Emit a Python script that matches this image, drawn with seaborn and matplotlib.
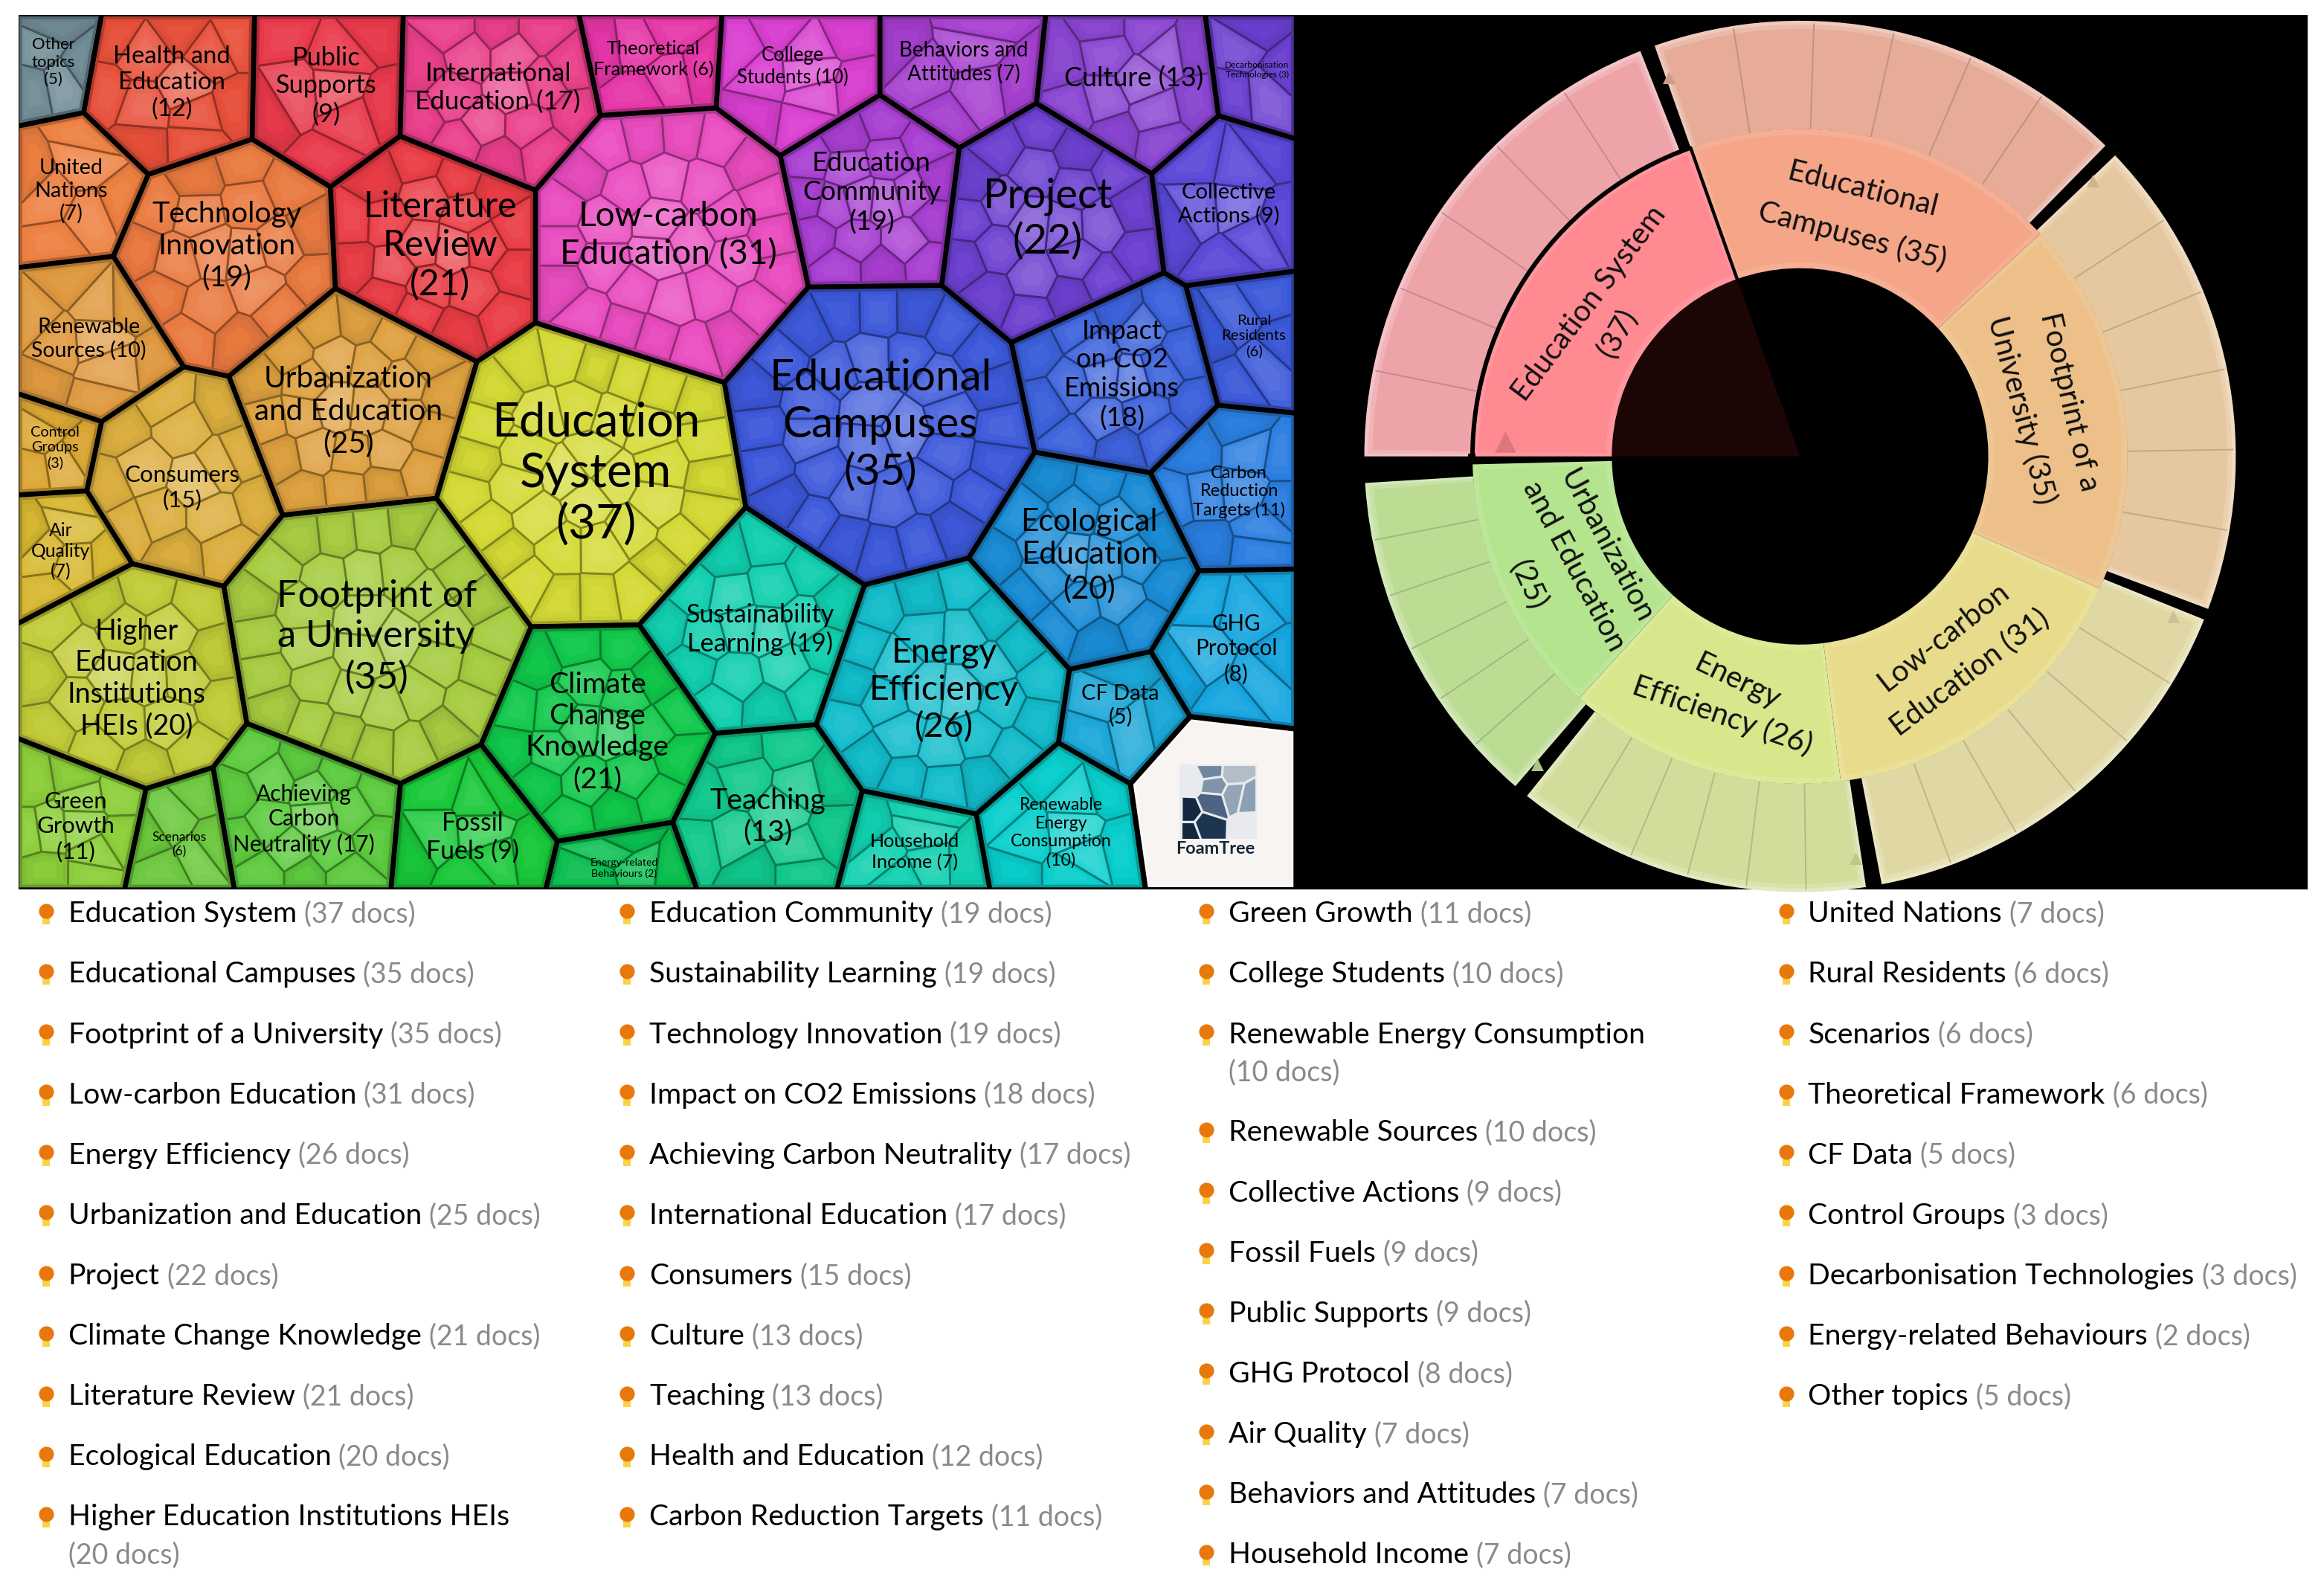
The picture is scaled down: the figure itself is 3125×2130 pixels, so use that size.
import math
import numpy as np
import matplotlib
matplotlib.use("Agg")
import matplotlib.pyplot as plt
import seaborn as sns
from matplotlib.collections import PolyCollection
from matplotlib.colors import to_rgb
from matplotlib.font_manager import FontProperties
from matplotlib.patches import Polygon, Rectangle, Wedge
from matplotlib.textpath import TextPath

# ---------------- data ----------------
col1_names = ["Education System", "Educational Campuses", "Footprint of a University", "Low-carbon Education",
              "Energy Efficiency", "Urbanization and Education", "Project", "Climate Change Knowledge",
              "Literature Review", "Ecological Education", "Higher Education Institutions HEIs"]
col1_docs = [37, 35, 35, 31, 26, 25, 22, 21, 21, 20, 20]
col2_names = ["Education Community", "Sustainability Learning", "Technology Innovation", "Impact on CO2 Emissions",
              "Achieving Carbon Neutrality", "International Education", "Consumers", "Culture", "Teaching",
              "Health and Education", "Carbon Reduction Targets"]
col2_docs = [19, 19, 19, 18, 17, 17, 15, 13, 13, 12, 11]
col3_names = ["Green Growth", "College Students", "Renewable Energy Consumption", "Renewable Sources",
              "Collective Actions", "Fossil Fuels", "Public Supports", "GHG Protocol", "Air Quality",
              "Behaviors and Attitudes", "Household Income"]
col3_docs = [11, 10, 10, 10, 9, 9, 9, 8, 7, 7, 7]
col4_names = ["United Nations", "Rural Residents", "Scenarios", "Theoretical Framework", "CF Data",
              "Control Groups", "Decarbonisation Technologies", "Energy-related Behaviours", "Other topics"]
col4_docs = [7, 6, 6, 6, 5, 3, 3, 2, 5]

ring_names = ["Education System", "Educational Campuses", "Footprint of a University",
              "Low-carbon Education", "Energy Efficiency", "Urbanization and Education"]
ring_docs = [37, 35, 35, 31, 26, 25]

# ---------------- layout (reference pixels of the 1568 x 1069 view) ----------------
# name: site x, site y, cell radius, colour, label lines, label x, label y, widest line width
foam = {
 "Education System": (400,323,100,"#d4da34","Education\nSystem\n(37)",402,320,128),
 "Educational Campuses": (592,290,98,"#3c58da","Educational\nCampuses\n(35)",594,287,137),
 "Footprint of a University": (255,430,95,"#a6cc40","Footprint of\na University\n(35)",254,430,125),
 "Low-carbon Education": (450,165,90,"#ea4cc0","Low-carbon\nEducation (31)",451,159,135),
 "Energy Efficiency": (637,465,80,"#12bccb","Energy\nEfficiency\n(26)",637,466,93),
 "Urbanization and Education": (238,275,75,"#dea03e","Urbanization\nand Education\n(25)",235,278,118),
 "Project": (707,150,72,"#6c40d0","Project\n(22)",707,148,80),
 "Climate Change Knowledge": (403,493,72,"#10c84a","Climate\nChange\nKnowledge\n(21)",403,494,89),
 "Literature Review": (295,165,68,"#ea3c44","Literature\nReview\n(21)",297,166,95),
 "Ecological Education": (733,378,68,"#1a8cd6","Ecological\nEducation\n(20)",735,375,84),
 "Higher Education Institutions HEIs": (88,458,70,"#c2cc38","Higher\nEducation\nInstitutions\nHEIs (20)",92,458,86),
 "Education Community": (590,135,60,"#a83ed2","Education\nCommunity\n(19)",588,130,87),
 "Sustainability Learning": (507,420,71,"#10cfae","Sustainability\nLearning (19)",513,425,94),
 "Technology Innovation": (153,172,70,"#ea7a40","Technology\nInnovation\n(19)",153,166,95),
 "Impact on CO2 Emissions": (755,255,62,"#3c62dc","Impact\non CO2\nEmissions\n(18)",757,253,71),
 "Achieving Carbon Neutrality": (208,550,58,"#5ccb3e","Achieving\nCarbon\nNeutrality (17)",205,553,88),
 "International Education": (335,65,60,"#ea3f8a","International\nEducation (17)",336,59,103),
 "Consumers": (122,320,60,"#dcae3e","Consumers\n(15)",123,329,72),
 "Culture": (762,60,52,"#8a45d2","Culture (13)",765,53,87),
 "Teaching": (518,548,54,"#10c88c","Teaching\n(13)",518,551,73),
 "Health and Education": (115,60,52,"#e8503a","Health and\nEducation\n(12)",116,56,72),
 "Carbon Reduction Targets": (830,330,48,"#2a7ee0","Carbon\nReduction\nTargets (11)",836,332,58),
 "Green Growth": (52,550,42,"#8ccf3a","Green\nGrowth\n(11)",51,558,48),
 "College Students": (537,48,45,"#d93fd0","College\nStudents (10)",535,45,70),
 "Renewable Energy Consumption": (715,555,45,"#08cfcc","Renewable\nEnergy\nConsumption\n(10)",716,562,63),
 "Renewable Sources": (62,230,50,"#e09a40","Renewable\nSources (10)",60,229,72),
 "Collective Actions": (827,135,45,"#5a48d8","Collective\nActions (9)",829,138,64),
 "Fossil Fuels": (318,560,48,"#18c838","Fossil\nFuels (9)",319,565,57),
 "Public Supports": (220,62,45,"#e8384a","Public\nSupports\n(9)",220,58,63),
 "GHG Protocol": (832,437,45,"#16a6e0","GHG\nProtocol\n(8)",834,438,50),
 "Air Quality": (42,370,35,"#d8b832","Air\nQuality\n(7)",41,372,37),
 "Behaviors and Attitudes": (648,48,42,"#a63fcf","Behaviors and\nAttitudes (7)",650,42,80),
 "Household Income": (615,573,36,"#10d0b0","Household\nIncome (7)",617,575,55),
 "United Nations": (50,128,42,"#ee8040","United\nNations\n(7)",48,129,45),
 "Rural Residents": (840,232,33,"#3a58d8","Rural\nResidents\n(6)",846,227,40),
 "Scenarios": (122,565,30,"#6cc83e","Scenarios\n(6)",121,570,34),
 "Theoretical Framework": (442,42,34,"#e636a8","Theoretical\nFramework (6)",441,40,75),
 "CF Data": (756,483,35,"#1aa8d8","CF Data\n(5)",756,476,48),
 "Other topics": (33,45,23,"#6f8a94","Other\ntopics\n(5)",36,42,27),
 "Control Groups": (38,302,27,"#dca835","Control\nGroups\n(3)",37,302,30),
 "Decarbonisation Technologies": (853,48,25,"#6a3fd0","Decarbonisation\nTechnologies (3)",848,47,40),
 "Energy-related Behaviours": (418,584,30,"#0abf50","Energy-related\nBehaviours (2)",421,586,42),
}
logo_site = (820, 540, 50)
FOAM_BOX = (14, 12, 872, 598)
GAP = 2.6

ring_center = (1214.5, 308)
R_IN, R_MID, R_OUT = 127, 221, 294
ring_inner_col = ["#ff8a92", "#f5a688", "#ecc088", "#e8dc8c", "#d8e68c", "#b4e48e"]
ring_outer_col = ["#eda3a8", "#e6ac98", "#e6c8a0", "#e0d8a4", "#d4dc9c", "#bcdc94"]
ring_outer_span = [(180, 111.5), (109.5, 45.5), (43.7, -20.5), (-22, -79.2), (-81.3, -128.8), (-130.8, -176.5)]
ring_labels = [
 [("Education System", 1072, 205, 53), ("(37)", 1091, 225, 60)],
 [("Educational", 1256.5, 128, -14), ("Campuses (35)", 1250, 159, -15)],
 [("Footprint of a", 1396, 271, -77), ("University (35)", 1364, 277, -75)],
 [("Low-carbon", 1311, 430, 38), ("Education (31)", 1329, 454, 37)],
 [("Energy", 1172, 460, -26), ("Efficiency (26)", 1162, 483, -19)],
 [("Urbanization", 1084, 369, -62), ("and Education", 1062, 382, -62), ("(25)", 1031, 395, -65)],
]
ring_tri = [(1015.5, 298), (1126, 52), (1412, 122), (1466, 416), (1252, 579), (1037, 516)]

legend_text_x = [46, 438, 829, 1220]
legend_first_y = 617
legend_step = 40.7
legend_wrap = 25.5
legend_limit = 350
legend_size_ref = ("Education System", 151)

# ---------------- helpers ----------------
sns.set_theme(style="white")
plt.rcParams["font.family"] = ["Lato", "DejaVu Sans"]
SCALE = 3125 / 1568


def text_width(s, size=100.0, weight="normal"):
    prop = FontProperties(family="Lato", weight=weight)
    return TextPath((0, 0), s, size=size, prop=prop).get_extents().width


def fit_size(s, target, weight="normal"):
    return target * SCALE * 0.72 * 100.0 / text_width(s, weight=weight)


def clip_half(poly, a, b):
    out = []
    n = len(poly)
    for k in range(n):
        p, q = poly[k], poly[(k + 1) % n]
        fp, fq = a @ p - b, a @ q - b
        if fp <= 0:
            out.append(p)
        if fp * fq < 0:
            out.append(p + (q - p) * fp / (fp - fq))
    return out


def power_cell(i, pts, wts, start, gap):
    poly = [np.array(p, float) for p in start]
    for j in range(len(pts)):
        if j == i or not poly:
            continue
        a = 2 * (pts[j] - pts[i])
        b = pts[j] @ pts[j] - pts[i] @ pts[i] - wts[j] + wts[i]
        norm = np.linalg.norm(a)
        poly = clip_half(poly, a / norm, b / norm - gap)
    return np.array(poly)


def centroid(poly):
    x, y = poly[:, 0], poly[:, 1]
    xn, yn = np.roll(x, -1), np.roll(y, -1)
    cr = x * yn - xn * y
    ar = cr.sum() / 2
    return np.array([((x + xn) * cr).sum(), ((y + yn) * cr).sum()]) / (6 * ar)


def ray_hit(poly, c, th):
    d = np.array([math.cos(th), math.sin(th)])
    best = 1e9
    for k in range(len(poly)):
        p, q = poly[k], poly[(k + 1) % len(poly)]
        e = q - p
        den = d[0] * e[1] - d[1] * e[0]
        if abs(den) < 1e-9:
            continue
        t = ((p - c)[0] * e[1] - (p - c)[1] * e[0]) / den
        u = ((p - c)[0] * d[1] - (p - c)[1] * d[0]) / den
        if t > 0 and -1e-6 <= u <= 1 + 1e-6:
            best = min(best, t)
    return c + d * best


def inner_seeds(poly, n):
    c = centroid(poly)
    outer = math.ceil(0.55 * n)
    rest = n - outer
    mid = math.ceil(0.75 * rest) if rest > 3 else rest
    inner = rest - mid
    seeds, rho = [], []
    for cnt, f, off in ((outer, 0.84, 0.3), (mid, 0.50, 0.9), (inner, 0.16, 0.1)):
        for k in range(cnt):
            th = off + 2 * math.pi * k / cnt
            seeds.append(c + f * (ray_hit(poly, c, th) - c))
            rho.append(f)
    return np.array(seeds), np.array(rho)


def shade(col, t):
    rgb = np.array(to_rgb(col))
    if t >= 0:
        return tuple(rgb + (1 - rgb) * t)
    return tuple(rgb * (1 + t))


def draw_foam_cell(ax, poly, col, n):
    seeds, rho = inner_seeds(poly, n)
    w0 = np.zeros(len(seeds))
    levels = {0: ([], []), 1: ([], []), 2: ([], [])}
    edges = shade(col, -0.38)
    for i in range(len(seeds)):
        sub = power_cell(i, seeds, w0, poly, 0.0)
        if len(sub) < 3:
            continue
        cc = centroid(sub)
        tone = 0.34 * (1 - rho[i]) - 0.05 + 0.045 * math.sin(i * 2.4)
        for lev, (sc, dt) in enumerate(((1.0, -0.05), (0.78, 0.0), (0.5, 0.045))):
            levels[lev][0].append(cc + (sub - cc) * sc)
            levels[lev][1].append(shade(col, tone + dt))
    ax.add_collection(PolyCollection(levels[0][0], facecolors=levels[0][1], edgecolors=[edges],
                                     linewidths=2.0, zorder=3))
    for lev in (1, 2):
        ax.add_collection(PolyCollection(levels[lev][0], facecolors=levels[lev][1], edgecolors="none",
                                         alpha=0.8, zorder=3 + lev))
    ax.add_patch(Polygon(poly, closed=True, fill=False, edgecolor=shade(col, -0.25), lw=2.6, zorder=6))


# ---------------- figure ----------------
fig = plt.figure(figsize=(31.25, 21.30), dpi=100, facecolor="white")
ax = fig.add_axes([0, 0, 1, 1])
ax.set_xlim(0, 1568)
ax.set_ylim(1069, 0)
ax.axis("off")

ax.add_patch(Rectangle((12.5, 10), 862, 590, facecolor="black", edgecolor="none", zorder=1))
ax.add_patch(Rectangle((874, 10), 683, 590, facecolor="black", edgecolor="none", zorder=1))

# foam tree
all_names = col1_names + col2_names + col3_names + col4_names
all_docs = col1_docs + col2_docs + col3_docs + col4_docs
x0, y0, x1, y1 = FOAM_BOX
box = [(x0, y0), (x1, y0), (x1, y1), (x0, y1)]
pts = np.array([foam[k][:2] for k in all_names] + [logo_site[:2]], float)
wts = np.array([foam[k][2] ** 2 for k in all_names] + [logo_site[2] ** 2], float)

for i, (name, docs) in enumerate(zip(all_names, all_docs)):
    sx, sy, r, col, lab, lx, ly, lw_ = foam[name]
    cell = power_cell(i, pts, wts, box, GAP)
    draw_foam_cell(ax, cell, col, max(docs, 5))
    widest = max(lab.split("\n"), key=lambda s: text_width(s))
    ax.text(lx, ly, lab, ha="center", va="center", ma="center", color="black",
            fontsize=fit_size(widest, lw_) * 1.06, linespacing=1.22, zorder=8)

# logo cell
logo_cell = power_cell(len(all_names), pts, wts, box, GAP)
ax.add_patch(Polygon(logo_cell, closed=True, facecolor="#f7f4f1", edgecolor="#fbfafa", lw=2, zorder=3))
logo_sites = np.array([(817.5, 520), (832, 521), (819, 530), (833, 537), (842, 539), (818, 541.5),
                       (802, 548.5), (813, 557), (802, 561), (803, 527), (843, 558)], float)
logo_cols = ["#6f87a3", "#b2bdc9", "#7f93ab", "#95a5b8", "#8ba0b5", "#4d6583",
             "#14293f", "#1c3550", "#14293f", None, None]
ax.add_patch(Rectangle((796, 516), 52, 50, facecolor="#e8eaed", edgecolor="none", zorder=4))
for i, c in enumerate(logo_cols):
    if c is None:
        continue
    sub = power_cell(i, logo_sites, np.zeros(len(logo_sites)), [(798, 517), (847, 517), (847, 566), (798, 566)], 0.8)
    ax.add_patch(Polygon(sub, closed=True, facecolor=c, edgecolor="none", zorder=5))
ax.text(820, 573, "FoamTree", ha="center", va="center", color="#12263a", fontweight="bold",
        fontsize=fit_size("FoamTree", 52, "bold"), zorder=6)

# sunburst
cx, cy = ring_center
bounds = [180.0]
for d in ring_docs:
    bounds.append(bounds[-1] - 360.0 * d / sum(ring_docs))
ring_font = fit_size("Education System", 156)


def wedge(a_hi, a_lo, r_out, width, **kw):
    # angles are counter-clockwise on screen; the y axis of the axes points down
    return Wedge((cx, cy), r_out, -a_hi, -a_lo, width=width, **kw)


for k, (name, col_in, col_out, span) in enumerate(zip(ring_names, ring_inner_col, ring_outer_col, ring_outer_span)):
    hi, lo = span
    ax.add_patch(wedge(hi, lo, R_OUT, R_OUT - R_MID, facecolor=shade(col_out, 0.35), edgecolor="none", zorder=3))
    ax.add_patch(wedge(hi - 0.4, lo + 0.4, R_OUT - 2.5, R_OUT - R_MID - 2.5, facecolor=shade(col_out, 0.17),
                       edgecolor="none", zorder=3))
    ax.add_patch(wedge(hi - 0.9, lo + 0.9, R_OUT - 5.5, R_OUT - R_MID - 5.5, facecolor=col_out, edgecolor="none", zorder=4))
    for q in range(1, 6):
        a = math.radians(hi + (lo - hi) * q / 6)
        ax.plot([cx + R_MID * math.cos(a), cx + (R_OUT - 2) * math.cos(a)],
                [cy - R_MID * math.sin(a), cy - (R_OUT - 2) * math.sin(a)],
                color=shade(col_out, -0.16), lw=1.4, zorder=5)
    hi2, lo2 = bounds[k], bounds[k + 1]
    if k == 5:
        lo2 = -178.6
    ax.add_patch(wedge(hi2, lo2, R_MID, R_MID - R_IN, facecolor=shade(col_in, 0.10), edgecolor="none", zorder=6))
    ax.add_patch(wedge(hi2 - 1.0, lo2 + 1.0, R_MID - 4, R_MID - R_IN - 8, facecolor=col_in, edgecolor="none", zorder=7))
    tx, ty = ring_tri[k]
    tc = shade(ring_inner_col[0], -0.14) if k == 0 else shade(col_out, -0.10)
    ax.scatter([tx], [ty], marker="^", s=420 if k == 0 else 150, color=tc, linewidths=0, zorder=8)
    for text, lx, ly, rot in ring_labels[k]:
        ax.text(lx, ly, text, ha="center", va="center", rotation=rot, rotation_mode="anchor",
                color="#111111", fontsize=ring_font, zorder=9)

ax.add_patch(wedge(180, bounds[1], R_IN, R_IN, facecolor="#1b0505", edgecolor="none", zorder=3))
# black arc and divider round the first sector
ax.add_patch(Wedge((cx, cy), R_MID + 1.5, -180, -bounds[1], width=3, facecolor="black", edgecolor="none", zorder=8))
a = math.radians(bounds[1])
ax.plot([cx + R_IN * math.cos(a), cx + R_MID * math.cos(a)], [cy - R_IN * math.sin(a), cy - R_MID * math.sin(a)],
        color="black", lw=3.2, zorder=8)
ax.add_patch(Rectangle((cx - R_MID - 3, cy - 2), 5, 4, facecolor="black", edgecolor="none", zorder=8))

# legend
leg_size = fit_size(*legend_size_ref)
renderer = fig.canvas.get_renderer()
bx, by = [], []
for tx, names, docs in zip(legend_text_x, (col1_names, col2_names, col3_names, col4_names),
                           (col1_docs, col2_docs, col3_docs, col4_docs)):
    y = legend_first_y
    for name, d in zip(names, docs):
        bx.append(tx - 15)
        by.append(y)
        t = ax.text(tx, y, name, ha="left", va="center", color="black", fontsize=leg_size, zorder=3)
        width = t.get_window_extent(renderer).width / SCALE
        extra = f"({d} docs)"
        extra_w = text_width(extra, size=leg_size) * (100 / 72) / SCALE
        if width + 6 + extra_w > legend_limit:
            ax.text(tx, y + legend_wrap, extra, ha="left", va="center", color="#8a8a8a", fontsize=leg_size * 0.96)
            y += legend_wrap
        else:
            ax.text(tx + width + 5, y, extra, ha="left", va="center", color="#8a8a8a", fontsize=leg_size * 0.96)
        y += legend_step

bx = np.array(bx, float)
by = np.array(by, float)
sns.scatterplot(x=bx, y=by + 4.5, marker="s", s=42, color="#f9d34a", linewidth=0, ax=ax, zorder=3, legend=False)
sns.scatterplot(x=bx, y=by - 2.2, marker="o", s=210, color="#e8780c", linewidth=0, ax=ax, zorder=4, legend=False)
ax.set_xlim(0, 1568)
ax.set_ylim(1069, 0)
ax.axis("off")

fig.savefig("out.png", dpi=100, facecolor="white")
